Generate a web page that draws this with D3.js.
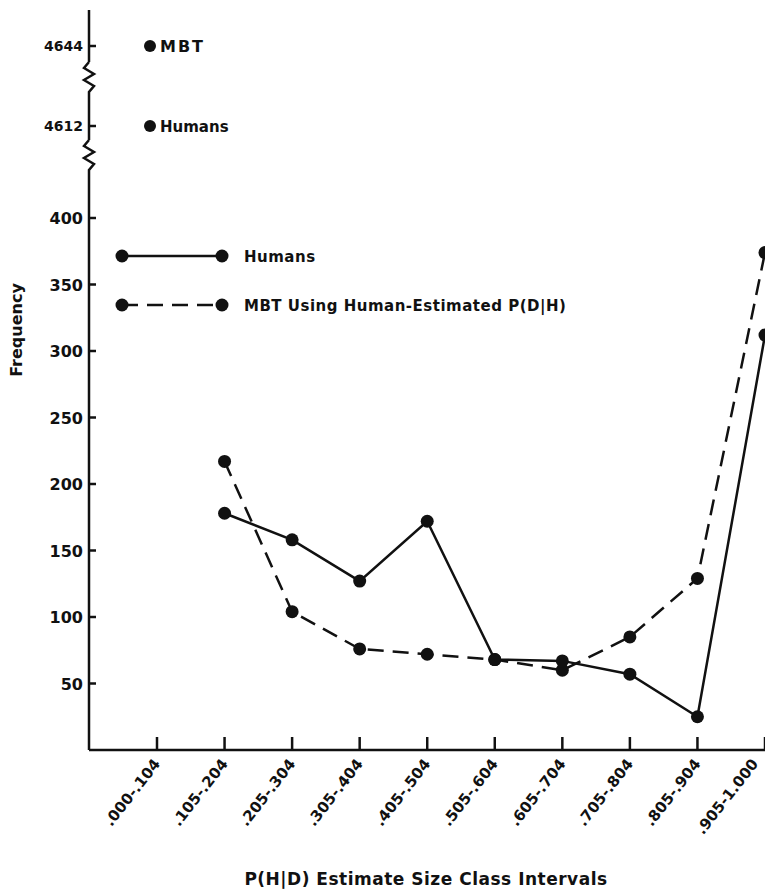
<!DOCTYPE html>
<html>
<head>
<meta charset="utf-8">
<script src="https://cdn.jsdelivr.net/npm/d3@7"></script>
<style>
  body { margin: 0; background: #fff; }
  text { font-family: "DejaVu Sans", sans-serif; font-weight: bold; fill: #111; }
</style>
</head>
<body>
<div id="chart"></div>
<script>
// data
const categories = [".000-.104", ".105-.204", ".205-.304", ".305-.404", ".405-.504",
  ".505-.604", ".605-.704", ".705-.804", ".805-.904", ".905-1.000"]
const humans = [null, 178, 158, 127, 172, 68, 67, 57, 25, 312]
const mbt = [null, 217, 104, 76, 72, 68, 60, 85, 129, 374]
const yTicks = [50, 100, 150, 200, 250, 300, 350, 400]
// off-scale values in the first interval
const brokenTicks = [4612, 4644]
const brokenPoints = [{ name: "MBT", value: 4644 }, { name: "Humans", value: 4612 }]

const svgWidth = 765
const svgHeight = 896

let svg = d3.select("#chart").append("svg")
  .attr("width", svgWidth)
  .attr("height", svgHeight)

let axisX = 89
let x = d3.scalePoint().domain(categories).range([157, 765])
let y = d3.scaleLinear().domain([0, 400]).range([750, 218])
let yTop = d3.scaleLinear().domain([4612, 4644]).range([126, 46])

const ink = "#111"

// x axis
svg.append("line").attr("x1", axisX).attr("x2", 765).attr("y1", 750).attr("y2", 750)
  .attr("stroke", ink).attr("stroke-width", 2.5)
svg.selectAll(".xt").data(categories).enter().append("line")
  .attr("x1", d => x(d)).attr("x2", d => x(d)).attr("y1", 750).attr("y2", 737)
  .attr("stroke", ink).attr("stroke-width", 2.5)
// the last label sits at the page edge, nudge it in
svg.selectAll(".xl").data(categories).enter().append("text")
  .attr("transform", (d, i) => `translate(${x(d) + (i === categories.length - 1 ? -6 : 4)}, 764) rotate(-52)`)
  .attr("text-anchor", "end")
  .attr("font-size", 15)
  .text(d => d)

// y axis with two breaks
function zig(y0) {
  return `M${axisX},${y0} l-5,6 l10,6 l-10,6 l10,6 l-5,6`
}
svg.append("path")
  .attr("d", `M${axisX},10 V62 ${zig(62)} V140 ${zig(140)} V750`)
  .attr("fill", "none").attr("stroke", ink).attr("stroke-width", 2.5)

svg.selectAll(".yt").data(yTicks).enter().append("line")
  .attr("x1", axisX).attr("x2", axisX + 7).attr("y1", d => y(d)).attr("y2", d => y(d))
  .attr("stroke", ink).attr("stroke-width", 2.5)
svg.selectAll(".yl").data(yTicks).enter().append("text")
  .attr("x", axisX - 6).attr("y", d => y(d) + 6)
  .attr("text-anchor", "end").attr("font-size", 16)
  .text(d => d)
svg.selectAll(".ybt").data(brokenTicks).enter().append("line")
  .attr("x1", axisX).attr("x2", axisX + 7).attr("y1", d => yTop(d)).attr("y2", d => yTop(d))
  .attr("stroke", ink).attr("stroke-width", 2.5)
svg.selectAll(".ybl").data(brokenTicks).enter().append("text")
  .attr("x", axisX - 6).attr("y", d => yTop(d) + 5)
  .attr("text-anchor", "end").attr("font-size", 14)
  .text(d => d)

// off-scale points
svg.selectAll(".bp").data(brokenPoints).enter().append("circle")
  .attr("cx", x(categories[0]) - 7).attr("cy", d => yTop(d.value)).attr("r", 6).attr("fill", ink)
svg.selectAll(".bpl").data(brokenPoints).enter().append("text")
  .attr("x", x(categories[0]) + 3).attr("y", d => yTop(d.value) + 6)
  .attr("font-size", d => d.name === "MBT" ? 16 : 15)
  .attr("letter-spacing", d => d.name === "MBT" ? 2 : 0)
  .text(d => d.name)

// series
function drawSeries(values, dash) {
  let pts = categories.map((c, i) => ({ c: c, v: values[i] })).filter(d => d.v != null)
  let line = d3.line().x(d => x(d.c)).y(d => y(d.v))
  svg.append("path").datum(pts).attr("d", line)
    .attr("fill", "none").attr("stroke", ink).attr("stroke-width", 2.5)
    .attr("stroke-dasharray", dash)
  svg.selectAll(null).data(pts).enter().append("circle")
    .attr("cx", d => x(d.c)).attr("cy", d => y(d.v)).attr("r", 6.5).attr("fill", ink)
}
drawSeries(mbt, "16,9")
drawSeries(humans, null)

// legend
let legend = [
  { label: "Humans", dash: null, y: 256 },
  { label: "MBT  Using Human-Estimated P(D|H)", dash: "16,9", y: 305 }
]
legend.forEach(l => {
  svg.append("line").attr("x1", 122).attr("x2", 222).attr("y1", l.y).attr("y2", l.y)
    .attr("stroke", ink).attr("stroke-width", 2.5).attr("stroke-dasharray", l.dash)
  svg.append("circle").attr("cx", 122).attr("cy", l.y).attr("r", 6.5).attr("fill", ink)
  svg.append("circle").attr("cx", 222).attr("cy", l.y).attr("r", 6.5).attr("fill", ink)
  svg.append("text").attr("x", 244).attr("y", l.y + 6).attr("font-size", 15)
    .attr("letter-spacing", 0.5).text(l.label)
})

// axis titles
svg.append("text")
  .attr("transform", "translate(22, 330) rotate(-90)")
  .attr("text-anchor", "middle").attr("font-size", 16)
  .text("Frequency")
svg.append("text")
  .attr("x", 426).attr("y", 885)
  .attr("text-anchor", "middle").attr("font-size", 17)
  .attr("letter-spacing", 0.5)
  .text("P(H|D) Estimate Size Class Intervals")
</script>
</body>
</html>
